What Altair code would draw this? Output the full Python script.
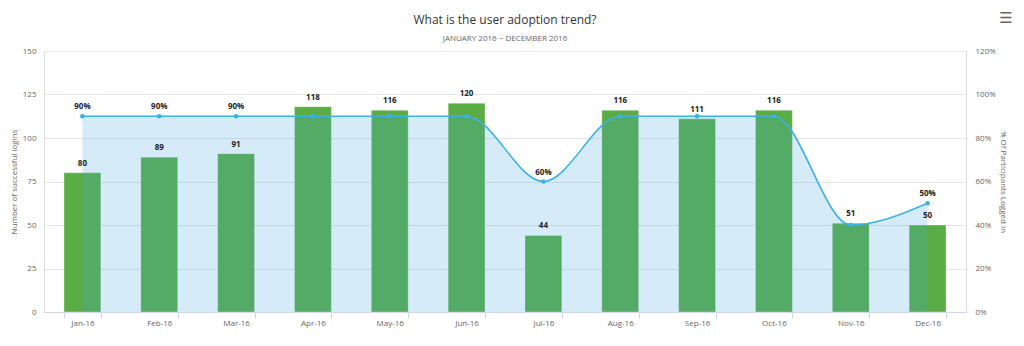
import altair as alt
import pandas as pd

months = ["Jan-16", "Feb-16", "Mar-16", "Apr-16", "May-16", "Jun-16",
          "Jul-16", "Aug-16", "Sep-16", "Oct-16", "Nov-16", "Dec-16"]
logins = [80, 89, 91, 118, 116, 120, 44, 116, 111, 116, 51, 50]
pct_logged = [0.9, 0.9, 0.9, 0.9, 0.9, 0.9, 0.6, 0.9, 0.9, 0.9, 0.4, 0.5]
pct_labels = ["90%", "90%", "90%", "", "", "", "60%", "", "", "", "", "50%"]
left_ticks = [0, 25, 50, 75, 100, 125, 150]
right_ticks = [0, 0.2, 0.4, 0.6, 0.8, 1.0, 1.2]

df = pd.DataFrame({"month": months, "logins": logins, "pct": pct_logged,
                   "pct_label": pct_labels})

FONT = "Open Sans"
GREY = "#666666"

x = alt.X("month:N", sort=months,
          scale=alt.Scale(paddingInner=0.52, paddingOuter=0.26),
          axis=alt.Axis(title=None, labelAngle=0, tickBand="extent",
                        domainColor="#ccd6eb", tickColor="#ccd6eb", tickSize=6,
                        labelColor=GREY, labelFontSize=8, labelFont=FONT,
                        labelPadding=1, grid=False))

y_left_scale = alt.Scale(domain=[0, 150], nice=False, zero=True)
y_right_scale = alt.Scale(domain=[0, 1.2], nice=False, zero=True)

base = alt.Chart(df)

bars = base.mark_bar(color="#5aac44", stroke="white", strokeWidth=1,
                     strokeOpacity=0.35).encode(
    x=x,
    y=alt.Y("logins:Q", scale=y_left_scale,
            axis=alt.Axis(orient="left", values=left_ticks,
                          title="Number of successful logins",
                          titleFont=FONT, titleFontSize=8, titleFontWeight="normal",
                          titleColor=GREY, titlePadding=4,
                          labelFont=FONT, labelFontSize=8, labelColor=GREY,
                          labelPadding=8, domain=False, ticks=False,
                          gridColor="#e6e6e6")),
)

area = base.mark_area(interpolate="monotone", color="#41aadf", opacity=0.22).encode(
    x=x,
    y=alt.Y("pct:Q", scale=y_right_scale,
            axis=alt.Axis(orient="right", values=right_ticks, format=".0%",
                          title="% Of Participants Logged In",
                          titleFont=FONT, titleFontSize=8, titleFontWeight="normal",
                          titleColor=GREY, titlePadding=3,
                          labelFont=FONT, labelFontSize=8, labelColor=GREY,
                          labelPadding=9, domain=False, ticks=False, grid=False)),
)

line = base.mark_line(interpolate="monotone", color="#3db1e5", strokeWidth=1.6).encode(
    x=x, y=alt.Y("pct:Q", scale=y_right_scale, axis=None))

points = base.mark_point(filled=True, color="#3db1e5", size=22, opacity=1).encode(
    x=x, y=alt.Y("pct:Q", scale=y_right_scale, axis=None))

bar_text = base.mark_text(dy=-5, baseline="bottom", font=FONT, fontWeight="bold",
                          fontSize=8, color="#222222").encode(
    x=x, y=alt.Y("logins:Q", scale=y_left_scale, axis=None), text="logins:Q")

pct_text = base.mark_text(dy=-5, baseline="bottom", font=FONT, fontWeight="bold",
                          fontSize=8, color="#222222").encode(
    x=x, y=alt.Y("pct:Q", scale=y_right_scale, axis=None), text="pct_label:N")

menu = alt.Chart(pd.DataFrame({"icon": ["\u2630"]})).mark_text(
    font="DejaVu Sans", fontSize=15, color="#666666", baseline="middle").encode(
    text="icon:N", x=alt.value(962), y=alt.value(-33))

chart = alt.layer(bars, area, line, points, bar_text, pct_text, menu).resolve_scale(
    y="independent"
).properties(
    width=922, height=261,
    autosize=alt.AutoSizeParams(type="none"),
    padding={"left": 44, "top": 51, "right": 58, "bottom": 34},
    title=alt.TitleParams(
        "What is the user adoption trend?",
        subtitle="JANUARY 2016 ~ DECEMBER 2016",
        font=FONT, fontSize=12, fontWeight="normal", color="#333333",
        subtitleFont=FONT, subtitleFontSize=8, subtitleColor=GREY,
        subtitlePadding=8, anchor="middle", offset=-33),
).configure_view(stroke=None).configure(background="white")

chart.save("out.html", embed_options={"renderer": "svg", "actions": False})
